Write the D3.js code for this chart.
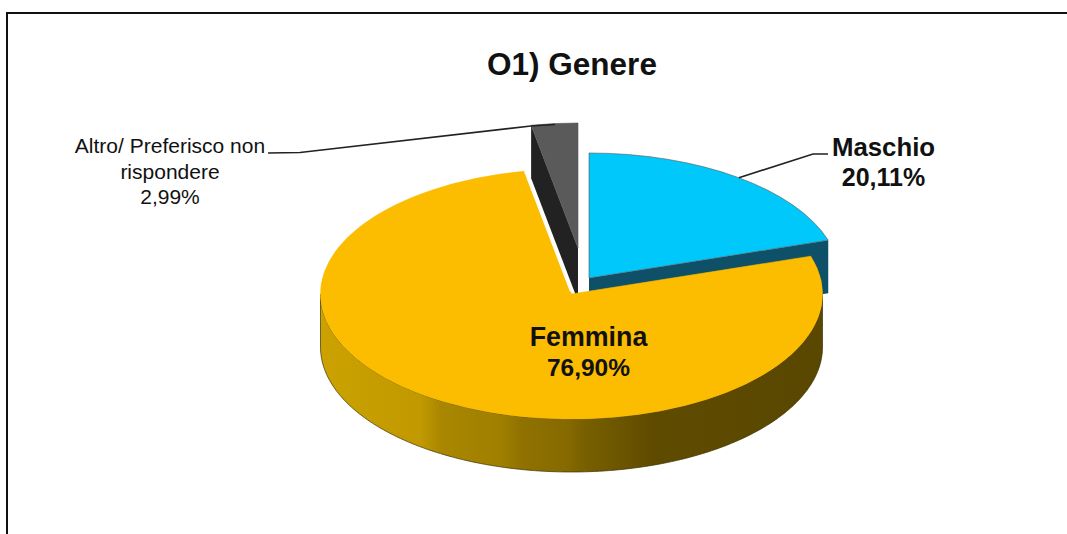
<!DOCTYPE html>
<html>
<head>
<meta charset="utf-8">
<script src="https://cdn.jsdelivr.net/npm/d3@7"></script>
<style>
  html, body { margin: 0; padding: 0; background: #fff; }
  svg { display: block; }
  text { font-family: "Liberation Sans", Arial, sans-serif; fill: #111; }
</style>
</head>
<body>
<svg width="1067" height="534"></svg>
<script>
const categories = ["Maschio", "Femmina", "Altro/ Preferisco non rispondere"];
const values = [20.11, 76.9, 2.99];
const valueLabels = ["20,11%", "76,90%", "2,99%"];
const title = "O1) Genere";

const topColors = ["#00c8fb", "#fcbc00", "#5a5a5a"];
const wallColors = ["#0e5068", "url(#femminaWall)", "#222222"];
const centers = [[589, 278], [571.5, 294], [578, 248]];
const rx = 251;
const ry = 125;
const depth = 53;

const svg = d3.select("svg");

// frame is cut off by the crop on the right and at the bottom
svg.append("path")
  .attr("d", "M7,534V13H1067")
  .attr("fill", "none")
  .attr("stroke", "#111")
  .attr("stroke-width", 2);

const gradient = svg.append("defs").append("linearGradient")
  .attr("id", "femminaWall")
  .attr("gradientUnits", "userSpaceOnUse")
  .attr("x1", 320)
  .attr("x2", 823)
  .attr("y1", 0)
  .attr("y2", 0);

[[0, "#cba200"], [0.2, "#c19900"], [0.24, "#a98700"], [0.36, "#a07f00"], [0.4, "#8f7200"], [0.49, "#866a00"], [0.53, "#775e00"], [0.6, "#6c5500"], [0.66, "#5f4b00"], [1, "#5a4700"]]
  .forEach(([o, c]) => gradient.append("stop").attr("offset", o).attr("stop-color", c));

const pie = d3.pie().sort(null);
const arcs = pie(values);
const topArc = d3.arc().innerRadius(0).outerRadius(rx);
const line = d3.line();

// point on the rim of a slice, t=1 is the rim and t=0 the apex
function rim(i, angle, t, down) {
  return [
    centers[i][0] + t * rx * Math.sin(angle),
    centers[i][1] - t * ry * Math.cos(angle) + (down ? depth : 0)
  ];
}

function outerWall(i, a0, a1) {
  const steps = d3.range(a0, a1, 0.02).concat([a1]);
  const upper = steps.map(a => rim(i, a, 1, false));
  const lower = steps.slice().reverse().map(a => rim(i, a, 1, true));
  return line(upper.concat(lower)) + "Z";
}

function cutWall(i, a) {
  return line([rim(i, a, 0, false), rim(i, a, 1, false), rim(i, a, 1, true), rim(i, a, 0, true)]) + "Z";
}

function drawSlice(i) {
  const d = arcs[i];
  const g = svg.append("g");
  const a0 = Math.max(d.startAngle, Math.PI / 2);
  const a1 = Math.min(d.endAngle, Math.PI * 1.5);
  if (i === 0) g.append("path").attr("d", cutWall(i, d.endAngle)).attr("fill", wallColors[i]);
  if (i === 2) g.append("path").attr("d", cutWall(i, d.startAngle)).attr("fill", wallColors[i]);
  if (a1 > a0) {
    g.append("path")
      .attr("d", outerWall(i, a0, a1))
      .attr("fill", wallColors[i])
      .attr("stroke", "#3a3000")
      .attr("stroke-width", 0.7);
  }
  g.append("path")
    .attr("d", topArc(d))
    .attr("transform", `translate(${centers[i][0]},${centers[i][1]}) scale(1,${ry / rx})`)
    .attr("fill", topColors[i])
    .attr("stroke", i === 1 ? topColors[i] : "#555")
    .attr("stroke-width", 0.6)
    .attr("vector-effect", "non-scaling-stroke");
}

// back slices first, Femmina sits on top of their walls
drawSlice(2);
drawSlice(0);
drawSlice(1);

// thin light edge along the Femmina cut
svg.append("path")
  .attr("d", line([rim(1, arcs[1].endAngle, 0.02, false), rim(1, arcs[1].endAngle, 1, false)]))
  .attr("stroke", "#fff")
  .attr("stroke-width", 1.3);

// leader lines
const leader = svg.append("g").attr("fill", "none").attr("stroke", "#222").attr("stroke-width", 1.6);
leader.append("path").attr("d", line([rim(0, 0.64, 1, false), [813, 154], [828, 154]]));
leader.append("path").attr("d", line([[268, 153], [300, 152.5], [531, 126], [555, 124.5]]));

// text
svg.append("text")
  .attr("x", 572)
  .attr("y", 75)
  .attr("text-anchor", "middle")
  .attr("font-weight", "bold")
  .attr("font-size", 31.5)
  .text(title);

// the bitmap text in the source has slightly different widths per line
function label(x, y, lines, sizes, weight, lineGap) {
  svg.append("text")
    .attr("text-anchor", "middle")
    .attr("font-weight", weight)
    .selectAll("tspan")
    .data(lines)
    .join("tspan")
    .attr("x", x)
    .attr("y", (d, i) => y + i * lineGap)
    .attr("font-size", (d, i) => sizes[i])
    .text(d => d);
}

label(883.5, 155.5, [categories[0], valueLabels[0]], [25.8, 25], "bold", 30.5);
label(588.5, 346, [categories[1], valueLabels[1]], [26.8, 24.5], "bold", 29.5);
label(170, 153, ["Altro/ Preferisco non", "rispondere", valueLabels[2]], [21, 21, 21], "normal", 25.5);
</script>
</body>
</html>
